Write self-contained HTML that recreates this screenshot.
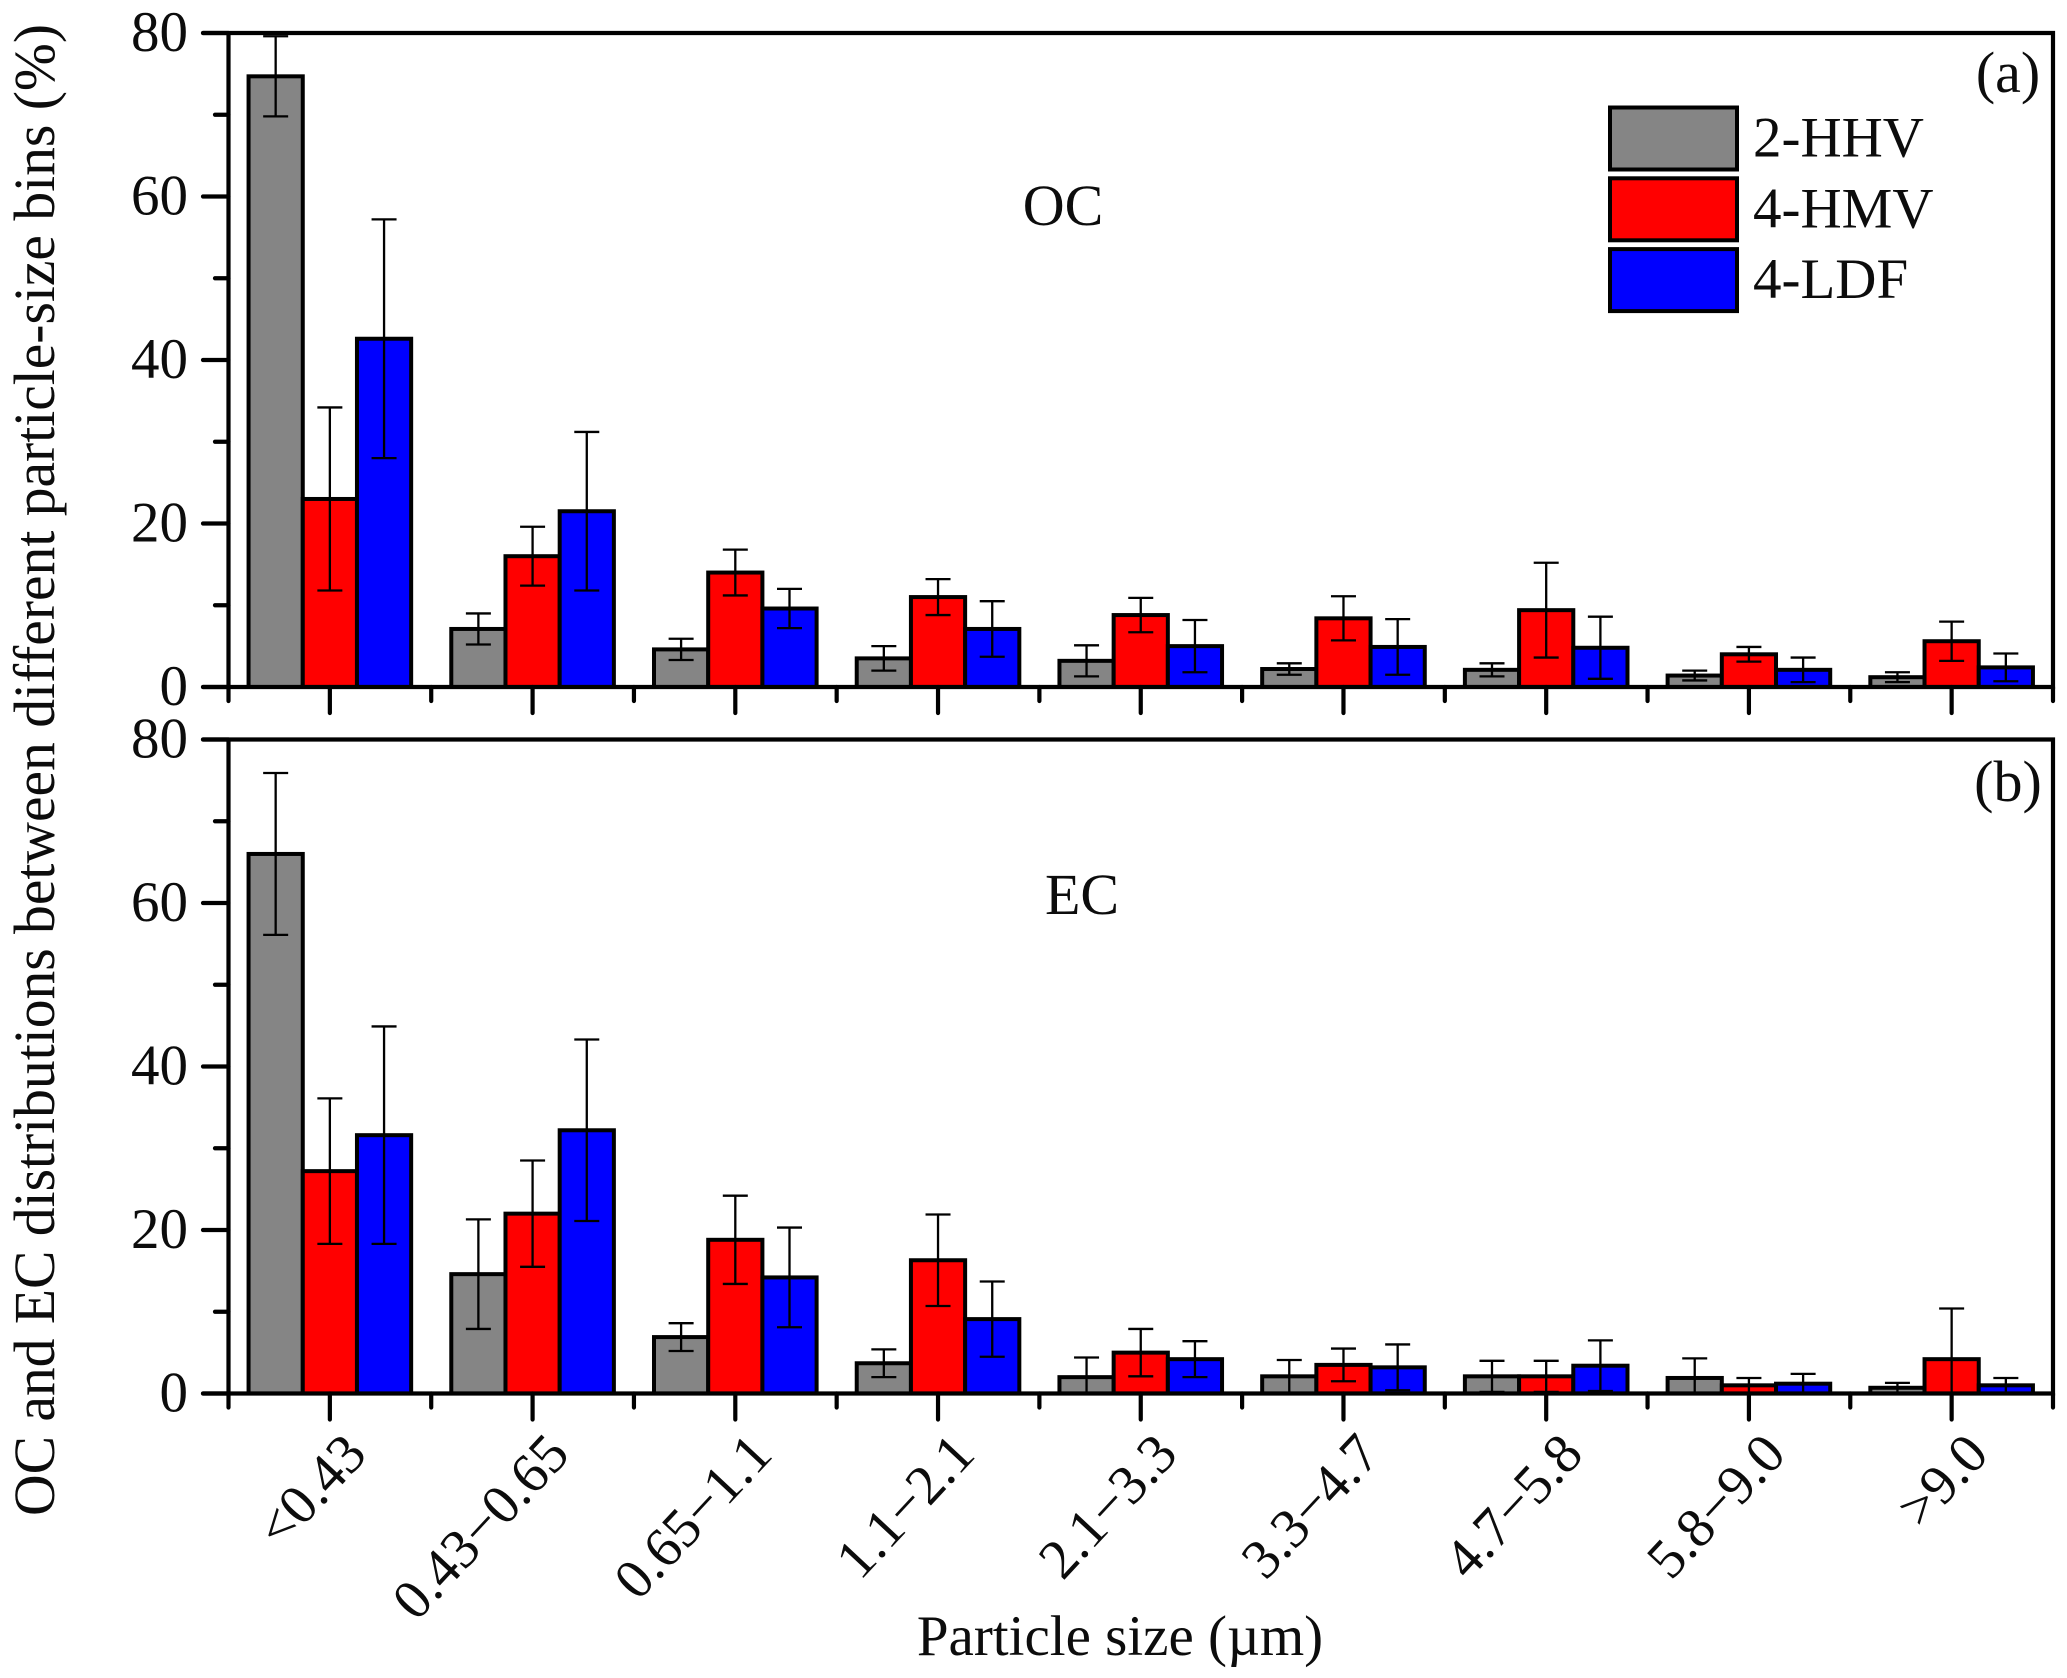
<!DOCTYPE html>
<html lang="en">
<head>
<meta charset="utf-8">
<title>OC and EC distributions</title>
<style>
html,body{margin:0;padding:0;background:#fff;width:2067px;height:1678px;overflow:hidden}
svg{display:block}
text{font-family:"Liberation Serif","DejaVu Serif",serif;fill:#0c0c0c}
</style>
</head>
<body>
<svg id="chart" xmlns="http://www.w3.org/2000/svg" width="2067" height="1678" viewBox="0 0 2067 1678">
  <text x="0" y="0" font-size="58" text-anchor="middle" textLength="1492" lengthAdjust="spacingAndGlyphs" transform="translate(54,770) rotate(-90)">OC and EC distributions between different particle-size bins (%)</text>
  <text x="1120" y="1655" font-size="57" text-anchor="middle">Particle size (µm)</text>
  <text x="2008" y="92" font-size="58" text-anchor="middle">(a)</text>
  <text x="2008" y="801" font-size="58" text-anchor="middle">(b)</text>
  <text x="1063" y="225" font-size="58" text-anchor="middle">OC</text>
  <text x="1082" y="914" font-size="58" text-anchor="middle">EC</text>
</svg>
<script>
const categories = ['<0.43','0.43−0.65','0.65−1.1','1.1−2.1','2.1−3.3','3.3−4.7','4.7−5.8','5.8−9.0','>9.0'];
const seriesNames = ['2-HHV','4-HMV','4-LDF'];
const seriesColors = ['#858585','#ff0000','#0000ff'];
const yTickLabels = [0,20,40,60,80];
const yMinorTicks = [10,30,50,70];

const ocHHV = [74.7,7.1,4.6,3.5,3.2,2.2,2.1,1.4,1.2];
const ocHMV = [23.0,16.0,14.0,11.0,8.8,8.4,9.4,4.0,5.6];
const ocLDF = [42.6,21.5,9.6,7.1,5.0,4.9,4.8,2.1,2.4];
const ocHHVErr = [4.9,1.9,1.3,1.5,1.9,0.7,0.8,0.6,0.6];
const ocHMVErr = [11.2,3.6,2.8,2.2,2.1,2.7,5.8,0.9,2.4];
const ocLDFErr = [14.6,9.7,2.4,3.4,3.2,3.4,3.8,1.5,1.7];

const ecHHV = [66.0,14.6,6.9,3.7,2.0,2.1,2.1,1.9,0.7];
const ecHMV = [27.2,22.0,18.8,16.3,5.0,3.5,2.1,1.0,4.2];
const ecLDF = [31.6,32.2,14.2,9.1,4.2,3.2,3.4,1.2,1.0];
const ecHHVErr = [9.9,6.7,1.7,1.7,2.4,2.0,1.9,2.4,0.6];
const ecHMVErr = [8.9,6.5,5.4,5.6,2.9,2.0,1.9,0.9,6.2];
const ecLDFErr = [13.3,11.1,6.1,4.6,2.2,2.8,3.1,1.2,0.9];

const SVG_NS = 'http://www.w3.org/2000/svg';
const svg = document.getElementById('chart');
const xLeft = 228.5, xRight = 2053, barWidth = 54.2;
const catWidth = (xRight - xLeft) / categories.length;
function xCenter(i){ return xLeft + catWidth * (i + 0.5); }
function yScale(panel, v){ return panel.y0 - (panel.y0 - panel.y80) * v / 80; }
function mk(tag, attrs){
  const el = document.createElementNS(SVG_NS, tag);
  for (const k in attrs) el.setAttribute(k, attrs[k]);
  return el;
}
function drawPanel(panel){
  const g = mk('g', {});
  
  
  svg.appendChild(g);
  panel.series.forEach(function(vals, s){
    vals.forEach(function(v, i){
      const x = xCenter(i) + (s - 1.5) * barWidth;
      const r = mk('rect', {x:x, y:yScale(panel, v), width:barWidth, height:panel.y0 - yScale(panel, v), fill:seriesColors[s], stroke:'#000', 'stroke-width':4});
      
      
      g.appendChild(r);
    });
  });
  panel.series.forEach(function(vals, s){
    vals.forEach(function(v, i){
      const cx = xCenter(i) + (s - 1) * barWidth;
      const e = panel.errors[s][i];
      const hi = yScale(panel, v + e);
      const lo = yScale(panel, Math.max(0, v - e));
      const eg = mk('path', {d:'M'+cx+' '+hi+'V'+lo+'M'+(cx-12.5)+' '+hi+'H'+(cx+12.5)+'M'+(cx-12.5)+' '+lo+'H'+(cx+12.5), fill:'none', stroke:'#000', 'stroke-width':2.3});
      
      
      g.appendChild(eg);
    });
  });
  const frame = mk('path', {d:'M203 '+panel.y80+'H'+xRight+'V'+panel.y0+'H203M'+xLeft+' '+panel.y80+'V'+panel.y0, fill:'none', stroke:'#000', 'stroke-width':4.2, 'stroke-linecap':'round'});
  
  
  g.appendChild(frame);
  yTickLabels.forEach(function(v){
    const y = yScale(panel, v);
    const t = mk('line', {x1:203, x2:xLeft, y1:y, y2:y, stroke:'#000', 'stroke-width':4.2, 'stroke-linecap':'round'});
    
    
    g.appendChild(t);
    const lab = mk('text', {x:188, y:y + 18, 'font-size':57, 'text-anchor':'end'});
    lab.textContent = v;
    
    
    g.appendChild(lab);
  });
  yMinorTicks.forEach(function(v){
    const y = yScale(panel, v);
    const t = mk('line', {x1:215, x2:xLeft, y1:y, y2:y, stroke:'#000', 'stroke-width':4.2, 'stroke-linecap':'round'});
    
    
    g.appendChild(t);
  });
  categories.forEach(function(c, i){
    const xm = xCenter(i);
    const maj = mk('line', {x1:xm, x2:xm, y1:panel.y0, y2:panel.y0 + 26, stroke:'#000', 'stroke-width':4.2, 'stroke-linecap':'round'});
    
    
    g.appendChild(maj);
  });
  for (let i = 0; i <= categories.length; i++){
    const xe = xLeft + catWidth * i;
    const t = mk('line', {x1:xe, x2:xe, y1:panel.y0, y2:panel.y0 + 14, stroke:'#000', 'stroke-width':4.2, 'stroke-linecap':'round'});
    
    
    g.appendChild(t);
  }
}
drawPanel({name:'oc', y0:687, y80:33, series:[ocHHV, ocHMV, ocLDF], errors:[ocHHVErr, ocHMVErr, ocLDFErr]});
drawPanel({name:'ec', y0:1393.5, y80:739.5, series:[ecHHV, ecHMV, ecLDF], errors:[ecHHVErr, ecHMVErr, ecLDFErr]});

categories.forEach(function(c, i){
  const lab = mk('text', {'font-size':56, 'text-anchor':'end', transform:'translate(' + (xCenter(i) + 39) + ',1456) rotate(-47)'});
  lab.textContent = c;
  
  
  svg.appendChild(lab);
});

seriesNames.forEach(function(n, s){
  const y = 107.5 + s * 70.8;
  const r = mk('rect', {x:1610, y:y, width:127, height:62, fill:seriesColors[s], stroke:'#000', 'stroke-width':4});
  
  
  svg.appendChild(r);
  const t = mk('text', {x:1753, y:y + 49, 'font-size':57});
  t.textContent = n;
  
  
  svg.appendChild(t);
});
</script>
</body>
</html>
